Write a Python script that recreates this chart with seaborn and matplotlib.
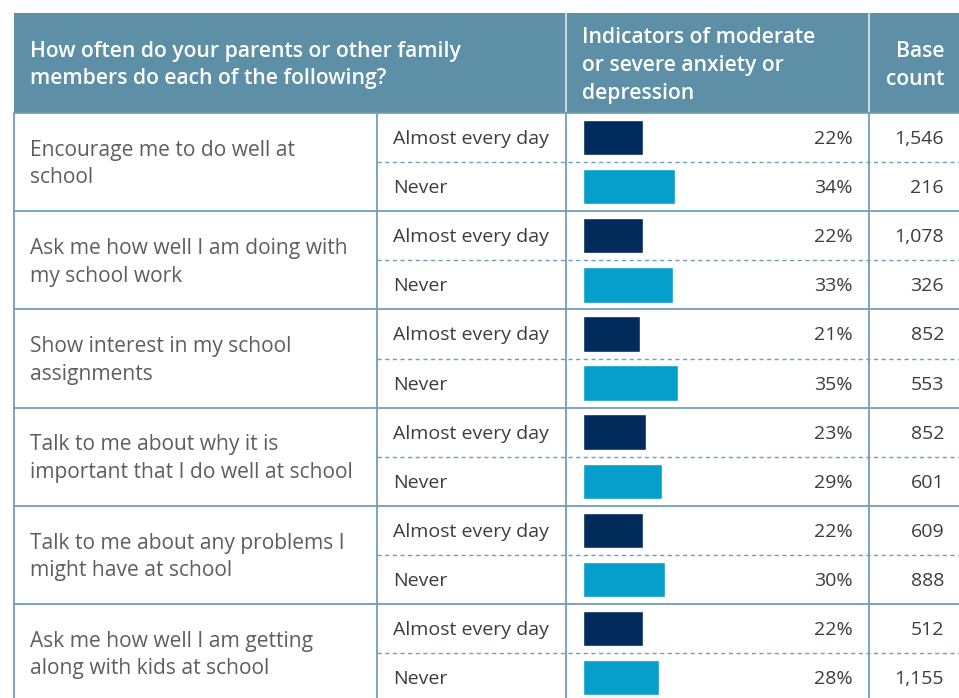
import matplotlib
matplotlib.use("Agg")
import matplotlib.pyplot as plt
import seaborn as sns
import pandas as pd
from matplotlib.patches import Rectangle

# Survey items and results
questions = [
    "Encourage me to do well at\nschool",
    "Ask me how well I am doing with\nmy school work",
    "Show interest in my school\nassignments",
    "Talk to me about why it is\nimportant that I do well at school",
    "Talk to me about any problems I\nmight have at school",
    "Ask me how well I am getting\nalong with kids at school",
]
responses = ["Almost every day", "Never"]
pct_daily = [22, 22, 21, 23, 22, 22]
pct_never = [34, 33, 35, 29, 30, 28]
count_daily = ["1,546", "1,078", "852", "852", "609", "512"]
count_never = ["216", "326", "553", "601", "888", "1,155"]

header_q = "How often do your parents or other family\nmembers do each of the following?"
header_ind = "Indicators of moderate\nor severe anxiety or\ndepression"
header_base = "Base\ncount"

# long table: one row per (question, response)
rows = []
for i in range(len(questions)):
    for resp, pct, cnt in ((responses[0], pct_daily[i], count_daily[i]),
                           (responses[1], pct_never[i], count_never[i])):
        rows.append({"row": f"{i}-{resp}", "response": resp, "pct": pct, "count": cnt})
df = pd.DataFrame(rows)

sns.set_theme(style="white")
plt.rcParams["font.family"] = ["Open Sans", "DejaVu Sans"]

W, H = 959, 698
fig = plt.figure(figsize=(W / 100, H / 100), dpi=100)
ax = fig.add_axes([0, 0, 1, 1])
ax.set_xlim(0, W)
ax.set_ylim(H, 0)
ax.axis("off")

header_col = "#5d8fa7"
line_col = "#6f9fb6"
navy = "#002b5a"
cyan = "#069fcb"

top, head_bot = 13, 113
row_h = 49.1
left, c1, c2, c3 = 14, 377, 566, 869

ax.add_patch(Rectangle((left, top), W - left, head_bot - top, color=header_col, lw=0))
# header dividers
for x in (c2, c3):
    ax.plot([x, x], [top, head_bot], color="#dfe9ee", lw=1.2)

n = len(df)
bottom = head_bot + n * row_h
# body vertical lines
for x in (left, c1, c2, c3):
    ax.plot([x, x], [head_bot, bottom], color=line_col, lw=1.3)
# group separators and dashed row separators
for g in range(len(questions) + 1):
    y = head_bot + 2 * g * row_h
    ax.plot([left, W], [y, y], color=line_col, lw=1.3)
    if g < len(questions):
        yd = y + row_h
        ax.plot([c1, W], [yd, yd], color=line_col, lw=1.0, ls=(0, (3, 2.5)))

# header text
hfs = 15.2
ax.text(30, 65, header_q, color="white", fontsize=hfs, fontweight="semibold",
        va="center", ha="left", linespacing=1.42)
ax.text(582, 65.5, header_ind, color="white", fontsize=hfs, fontweight="semibold",
        va="center", ha="left", linespacing=1.45)
ax.text(944, 65.5, header_base, color="white", fontsize=hfs, fontweight="semibold",
        va="center", ha="right", linespacing=1.45)

# body text
for i, q in enumerate(questions):
    yc = head_bot + (2 * i + 1) * row_h
    ax.text(30, yc + 2, q, color="#5e5e5e", fontsize=15.1, va="center", ha="left",
            linespacing=1.42)
for j, r in df.iterrows():
    yc = head_bot + (j + 0.5) * row_h + 1.5
    ax.text(393, yc, r["response"], color="#3c3c3c", fontsize=14.0, va="center", ha="left")
    ax.text(853, yc, f"{r['pct']}%", color="#3c3c3c", fontsize=14, va="center", ha="right")
    ax.text(944, yc, r["count"], color="#3c3c3c", fontsize=14, va="center", ha="right")

# bars
bx0, px_per = 583, 2.72
bax = fig.add_axes([bx0 / W, (H - bottom) / H, 100 * px_per / W, (bottom - head_bot) / H])
sns.barplot(data=df, x="pct", y="row", hue="response", palette=[navy, cyan],
            orient="h", dodge=False, width=0.72, legend=False, ax=bax, saturation=1)
bax.set_xlim(0, 100)
bax.set_ylim(n - 0.5, -0.5)
bax.axis("off")
bax.patch.set_alpha(0)

fig.savefig("out.png", dpi=100)
